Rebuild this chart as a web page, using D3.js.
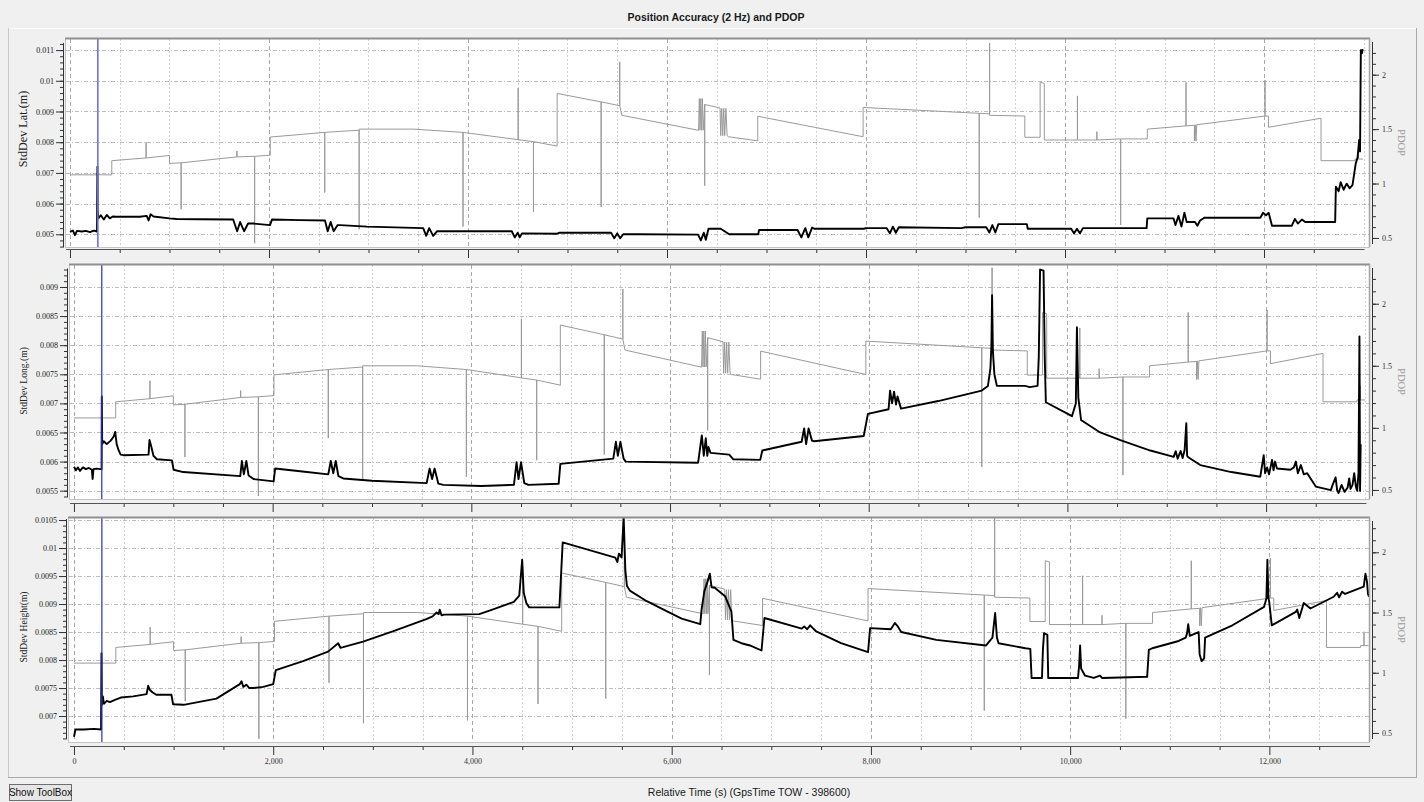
<!DOCTYPE html>
<html>
<head>
<meta charset="utf-8">
<script src="https://cdn.jsdelivr.net/npm/d3@7"></script>
<style>
  body { margin: 0; background: #f0f0f0; }
  svg { display: block; }
</style>
</head>
<body>
<svg id="chart" width="1424" height="802"></svg>
<script>
// ---- Data -------------------------------------------------------------
// Relative time (s) axis
const timeMajorTicks = [0, 2000, 4000, 6000, 8000, 10000, 12000];
const timeTickLabels = ["0", "2,000", "4,000", "6,000", "8,000", "10,000", "12,000"];
const cursorTime = 280;

// PDOP (right axis), shared by all three panels: [time, pdop]
const pdop = [
  [0,1.08],[420,1.08],[420,1.21],[765,1.235],[765,1.38],[765,1.235],[1000,1.258],[1000,1.185],
  [1117,1.19],[1117,0.764],[1117,1.19],[1678,1.245],[1678,1.30],[1678,1.245],[1856,1.25],[1856,0.452],
  [1856,1.25],[2013,1.26],[2013,1.427],[2560,1.47],[2560,0.917],[2560,1.47],[2906,1.49],[2906,0.58],
  [2906,1.50],[3450,1.50],[3950,1.47],[3950,0.605],[3950,1.47],[4504,1.403],[4504,1.877],[4504,1.403],
  [4658,1.385],[4658,0.74],[4658,1.385],[4896,1.344],[4896,1.828],[5338,1.75],[5338,0.785],[5338,1.75],
  [5525,1.715],[5525,2.118],[5525,1.715],[5546,1.627],[6317,1.489],[6325,1.78],[6332,1.49],[6340,1.78],
  [6348,1.49],[6356,1.78],[6364,1.49],[6379,1.726],[6379,0.98],[6379,1.726],[6533,1.694],[6540,1.44],
  [6550,1.69],[6560,1.44],[6570,1.69],[6580,1.44],[6592,1.69],[6604,1.44],[6617,1.43],[6912,1.392],
  [6912,1.618],[7971,1.43],[7971,1.699],[9138,1.645],[9138,0.686],[9138,1.645],[9242,1.64],[9242,2.29],
  [9242,1.627],[9596,1.62],[9596,1.425],[9750,1.425],[9750,1.93],[9792,1.92],[9792,1.40],[10125,1.40],
  [10125,1.805],[10125,1.40],[10320,1.40],[10320,1.477],[10320,1.40],[10559,1.41],[10559,0.62],[10559,1.41],
  [10827,1.41],[10827,1.50],[11216,1.53],[11216,1.93],[11216,1.53],[11300,1.535],[11300,1.39],[11308,1.54],
  [11316,1.39],[11324,1.54],[12010,1.62],[12010,1.95],[12010,1.62],[12044,1.62],[12044,1.517],[12573,1.60],
  [12573,1.21],[12915,1.21],[12915,1.225],[12950,1.225],[12950,1.34],[12950,1.225],[12995,1.225]
];

// Standard deviation of latitude (m): [time, value]
const stdLat = [
  [0,0.00508],[30,0.00512],[50,0.00497],[70,0.00511],[120,0.00509],[160,0.00511],[200,0.00507],[240,0.00512],
  [272,0.00509],[276,0.0072],[278,0.0058],[285,0.00552],[310,0.00562],[340,0.00548],[370,0.00563],[400,0.00552],
  [430,0.00558],[460,0.00557],[700,0.00557],[771,0.0056],[790,0.00545],[810,0.00565],[840,0.00558],[1000,0.00552],
  [1072,0.0055],[1300,0.00549],[1640,0.00548],[1680,0.0051],[1710,0.0054],[1750,0.0051],[1790,0.00535],[1843,0.00535],
  [2010,0.0053],[2030,0.00548],[2312,0.00546],[2563,0.00545],[2590,0.0051],[2620,0.0054],[2650,0.0051],[2690,0.0053],
  [2714,0.0053],[2985,0.00525],[3550,0.0052],[3580,0.00495],[3610,0.0052],[3650,0.00495],[3690,0.0051],[3720,0.0051],
  [4120,0.0051],[4440,0.0051],[4470,0.0049],[4500,0.00505],[4520,0.0049],[4542,0.00503],[4896,0.00502],[4917,0.00505],
  [5438,0.00505],[5470,0.00487],[5500,0.00503],[5530,0.00487],[5560,0.005],[5708,0.005],[6312,0.00499],[6340,0.0048],
  [6370,0.00505],[6390,0.00482],[6417,0.00518],[6540,0.00518],[6625,0.005],[6917,0.005],[6925,0.00514],[7312,0.00514],
  [7350,0.0049],[7390,0.0052],[7420,0.0049],[7458,0.00522],[7479,0.00518],[7979,0.00518],[8000,0.0052],[8208,0.0052],
  [8240,0.00503],[8270,0.00525],[8300,0.00505],[8330,0.00523],[8958,0.0052],[9000,0.00523],[9208,0.00523],[9240,0.00506],
  [9270,0.0053],[9300,0.00506],[9330,0.00533],[9617,0.00533],[9625,0.00518],[10062,0.00518],[10090,0.00503],[10120,0.00518],
  [10150,0.00503],[10180,0.0052],[10820,0.0052],[10827,0.00552],[11090,0.00552],[11110,0.0053],[11140,0.0056],[11170,0.00525],
  [11200,0.0057],[11223,0.0054],[11306,0.0054],[11330,0.00528],[11357,0.00545],[11400,0.00554],[11963,0.00554],[11990,0.0057],
  [12020,0.00562],[12047,0.0057],[12080,0.00528],[12280,0.00528],[12310,0.0055],[12340,0.00535],[12380,0.00548],[12414,0.0054],
  [12715,0.0054],[12722,0.00655],[12750,0.0064],[12770,0.0067],[12800,0.00645],[12830,0.00665],[12860,0.0065],[12889,0.0066],
  [12922,0.00731],[12940,0.0075],[12956,0.00807],[12965,0.0077],[12973,0.0110],[12985,0.0109],[12990,0.01103]
];

// Standard deviation of longitude (m): [time, value]
const stdLong = [
  [0,0.00591],[20,0.00585],[40,0.0059],[60,0.00584],[90,0.0059],[120,0.00587],[150,0.00589],[180,0.00586],
  [188,0.0057],[196,0.00587],[230,0.00588],[262,0.00587],[278,0.00587],[280,0.00712],[284,0.0063],[300,0.00635],
  [330,0.0063],[370,0.00636],[400,0.00643],[415,0.00651],[430,0.0063],[448,0.0062],[470,0.00612],[499,0.00611],
  [751,0.00612],[760,0.00637],[775,0.00628],[800,0.0061],[835,0.00604],[986,0.00602],[1003,0.00586],[1100,0.00582],
  [1674,0.00575],[1690,0.00601],[1710,0.00578],[1735,0.00601],[1758,0.00576],[1808,0.0057],[2010,0.00566],[2025,0.00588],
  [2300,0.00583],[2560,0.00578],[2585,0.00601],[2610,0.0058],[2635,0.00601],[2662,0.00575],[2711,0.00571],[3000,0.00567],
  [3550,0.00563],[3580,0.00588],[3605,0.0057],[3630,0.00588],[3668,0.00562],[3718,0.0056],[4100,0.00558],[4429,0.0056],
  [4455,0.00599],[4475,0.0057],[4500,0.00599],[4533,0.00563],[4575,0.0056],[4879,0.00562],[4896,0.00596],[5429,0.00605],
  [5455,0.00634],[5475,0.0061],[5500,0.00634],[5533,0.00605],[5554,0.006],[6283,0.00598],[6300,0.0062],[6320,0.00645],
  [6340,0.0061],[6360,0.0064],[6375,0.0061],[6387,0.00625],[6408,0.00615],[6596,0.00612],[6637,0.00604],[6908,0.00603],
  [6929,0.00619],[7325,0.00634],[7350,0.00657],[7370,0.0063],[7395,0.00657],[7429,0.00636],[7450,0.00635],[7950,0.00644],
  [7992,0.00682],[8200,0.0069],[8215,0.00722],[8235,0.007],[8255,0.0072],[8275,0.00698],[8290,0.00712],[8325,0.00691],
  [8700,0.00704],[9138,0.00722],[9200,0.0073],[9225,0.0076],[9235,0.0080],[9242,0.00886],[9250,0.0079],[9265,0.0075],[9290,0.0073],
  [9575,0.0073],[9620,0.00728],[9700,0.0073],[9712,0.0078],[9725,0.0093],[9760,0.00928],[9772,0.0078],[9783,0.00702],
  [10046,0.00678],[10085,0.0070],[10096,0.00831],[10110,0.0071],[10138,0.00671],[10160,0.00669],[10330,0.0065],[10533,0.00637],
  [10835,0.00619],[11070,0.00608],[11090,0.00618],[11110,0.00605],[11140,0.00618],[11160,0.00606],[11180,0.0062],[11197,0.00666],
  [11205,0.0061],[11220,0.00607],[11338,0.00594],[11650,0.00582],[11942,0.00574],[11976,0.00611],[11990,0.0058],[12010,0.0059],[12030,0.00578],
  [12060,0.00603],[12075,0.00585],[12090,0.006],[12110,0.00588],[12245,0.00586],[12280,0.0059],[12300,0.006],[12320,0.0058],
  [12350,0.00594],[12380,0.00578],[12414,0.0058],[12500,0.00557],[12652,0.00551],[12670,0.0056],[12700,0.00573],[12715,0.00551],
  [12730,0.00546],[12760,0.0056],[12790,0.00548],[12820,0.00555],[12837,0.00571],[12850,0.00553],[12870,0.0056],[12887,0.0058],
  [12905,0.00556],[12917,0.0055],[12930,0.0058],[12940,0.00815],[12946,0.0055],[12952,0.0063]
];

// Standard deviation of height (m): [time, value]
const stdHeight = [
  [0,0.00663],[15,0.00676],[100,0.00676],[200,0.00677],[272,0.00676],[276,0.00812],[280,0.0072],[290,0.00735],
  [300,0.00722],[330,0.00727],[360,0.00725],[411,0.00729],[470,0.00733],[595,0.00735],[729,0.00739],[745,0.00754],
  [760,0.00747],[790,0.00742],[826,0.00738],[978,0.00738],[995,0.00721],[1100,0.0072],[1430,0.00731],[1665,0.00757],
  [1682,0.00762],[1700,0.00752],[1730,0.00756],[1760,0.0075],[1799,0.0075],[1900,0.00752],[2000,0.00757],[2026,0.00782],
  [2300,0.00798],[2551,0.00815],[2640,0.00828],[2652,0.0083],[2675,0.00822],[2702,0.00823],[2902,0.00833],[3200,0.00851],
  [3537,0.00873],[3600,0.00878],[3640,0.00885],[3660,0.00882],[3671,0.0089],[3690,0.0088],[3720,0.00881],[4069,0.00882],
  [4200,0.0089],[4416,0.00904],[4470,0.00915],[4499,0.00979],[4515,0.0092],[4541,0.00902],[4570,0.00894],[4873,0.00894],
  [4906,0.0101],[5434,0.00983],[5455,0.00975],[5470,0.0099],[5497,0.00983],[5518,0.01055],[5535,0.0096],[5551,0.00932],
  [5580,0.00924],[5750,0.00905],[5954,0.00887],[6100,0.00874],[6287,0.00864],[6300,0.0089],[6328,0.00923],[6360,0.0094],[6383,0.00954],[6400,0.0093],
  [6432,0.00929],[6536,0.00914],[6599,0.00887],[6620,0.00836],[6700,0.0083],[6786,0.00826],[6902,0.00817],[6931,0.00875],[7306,0.00856],
  [7330,0.0086],[7360,0.00855],[7390,0.00862],[7451,0.00851],[7700,0.0083],[7971,0.00814],[7992,0.00857],[8200,0.00855],[8241,0.00866],
  [8270,0.0086],[8304,0.0085],[8657,0.00836],[9156,0.00826],[9220,0.0084],[9247,0.00884],[9265,0.0084],[9281,0.0083],
  [9551,0.00821],[9600,0.0082],[9613,0.00768],[9717,0.00768],[9727,0.0082],[9738,0.00848],[9771,0.00845],[9780,0.00768],
  [10079,0.00768],[10090,0.0079],[10100,0.00826],[10110,0.00785],[10150,0.00772],[10237,0.00768],[10300,0.00772],[10320,0.00768],
  [10773,0.0077],[10790,0.00818],[10824,0.00821],[11090,0.00834],[11160,0.0084],[11174,0.00848],[11185,0.00864],[11201,0.00843],
  [11290,0.0085],[11300,0.0081],[11320,0.00798],[11345,0.00803],[11355,0.0084],[11629,0.00862],[11947,0.00895],[11970,0.0091],
  [11980,0.00979],[11990,0.0091],[11997,0.00906],[12024,0.00862],[12265,0.00886],[12280,0.0089],[12300,0.00875],[12345,0.00902],
  [12412,0.00892],[12646,0.00913],[12680,0.0092],[12700,0.00912],[12730,0.00922],[12760,0.00918],[12947,0.00931],[12964,0.00954],
  [12980,0.0094],[12990,0.00918],[13000,0.00913]
];

// Axis ticks
const latTicks = [0.005, 0.006, 0.007, 0.008, 0.009, 0.01, 0.011];
const latTickLabels = ["0.005", "0.006", "0.007", "0.008", "0.009", "0.01", "0.011"];
const longTicks = [0.0055, 0.006, 0.0065, 0.007, 0.0075, 0.008, 0.0085, 0.009];
const longTickLabels = ["0.0055", "0.006", "0.0065", "0.007", "0.0075", "0.008", "0.0085", "0.009"];
const heightTicks = [0.007, 0.0075, 0.008, 0.0085, 0.009, 0.0095, 0.01, 0.0105];
const heightTickLabels = ["0.007", "0.0075", "0.008", "0.0085", "0.009", "0.0095", "0.01", "0.0105"];
const pdopTicks = [0.5, 1, 1.5, 2];
const pdopTickLabels = ["0.5", "1", "1.5", "2"];

// ---- Layout -----------------------------------------------------------
const panels = [
  { name: "StdDev Lat.(m)", data: stdLat, ticks: latTicks, labels: latTickLabels, minorStep: 0.0002,
    minorRange: [0.0046, 0.0112], left: 65, right: 1369, top: 38, bottom: 247, axisY: 249,
    tDomain: [-50, 13055], yDomain: [0.004586, 0.011394], pDomain: [0.417, 2.337], showLabels: false,
    titleSize: 12.2, titleX: 27, titleY: 129 },
  { name: "StdDev Long.(m)", data: stdLong, ticks: longTicks, labels: longTickLabels, minorStep: 0.0001,
    minorRange: [0.0054, 0.0093], left: 69, right: 1369, top: 264, bottom: 499, axisY: 503,
    tDomain: [-50, 13036], yDomain: [0.005357, 0.009395], pDomain: [0.427, 2.32], showLabels: false,
    titleSize: 9.6, titleX: 27, titleY: 381 },
  { name: "StdDev Height(m)", data: stdHeight, ticks: heightTicks, labels: heightTickLabels, minorStep: 0.0001,
    minorRange: [0.0066, 0.0105], left: 68, right: 1369, top: 517, bottom: 742, axisY: 746,
    tDomain: [-60, 13000], yDomain: [0.006536, 0.010554], pDomain: [0.425, 2.293], showLabels: true,
    titleSize: 9.6, titleX: 27, titleY: 627 }
];

const svg = d3.select("#chart");
const serif = "'Liberation Serif', 'Times New Roman', serif";
const sans = "'Liberation Sans', Arial, sans-serif";

// Outer frame
svg.append("rect").attr("x", 0).attr("y", 0).attr("width", 1424).attr("height", 802).attr("fill", "#f0f0f0");
svg.append("line").attr("x1", 8).attr("x2", 1416).attr("y1", 28.5).attr("y2", 28.5).attr("stroke", "#fbfbfb");
svg.append("line").attr("x1", 8.5).attr("x2", 8.5).attr("y1", 28).attr("y2", 777).attr("stroke", "#c9c9c9");
svg.append("line").attr("x1", 1416.5).attr("x2", 1416.5).attr("y1", 28).attr("y2", 777).attr("stroke", "#a8a8a8");
svg.append("line").attr("x1", 8).attr("x2", 1417).attr("y1", 777.5).attr("y2", 777.5).attr("stroke", "#a8a8a8");

// Title
svg.append("text").attr("x", 716).attr("y", 21).attr("text-anchor", "middle")
  .attr("font-family", sans).attr("font-weight", "bold").attr("font-size", 10.5).attr("fill", "#1a1a1a")
  .text("Position Accuracy (2 Hz) and PDOP");

panels.forEach((p, i) => {
  const g = svg.append("g");
  const x = d3.scaleLinear().domain(p.tDomain).range([p.left, p.right]);
  const y = d3.scaleLinear().domain(p.yDomain).range([p.bottom, p.top]);
  const yp = d3.scaleLinear().domain(p.pDomain).range([p.bottom, p.top]);

  // plot background
  g.append("rect").attr("x", p.left + 0.5).attr("y", p.top + 0.5)
    .attr("width", p.right - p.left).attr("height", p.bottom - p.top)
    .attr("fill", "#ffffff").attr("stroke", "#c4c4c4");

  // vertical grid every 500 s, darker at labelled times
  const gridTimes = d3.range(0, 13001, 500);
  g.selectAll(".vg").data(gridTimes).enter().append("line")
    .attr("x1", d => Math.round(x(d)) + 0.5).attr("x2", d => Math.round(x(d)) + 0.5)
    .attr("y1", p.top + 1).attr("y2", p.bottom)
    .attr("stroke", d => d % 2000 === 0 ? "#a9a9a9" : "#d2d2d2")
    .attr("stroke-dasharray", d => d % 2000 === 0 ? "4,3" : "2,2");

  // horizontal grid at labelled left ticks
  g.selectAll(".hg").data(p.ticks).enter().append("line")
    .attr("x1", p.left + 1).attr("x2", p.right)
    .attr("y1", d => Math.round(y(d)) + 0.5).attr("y2", d => Math.round(y(d)) + 0.5)
    .attr("stroke", "#bdbdbd").attr("stroke-dasharray", "4,2,1,2");

  const clipId = "clip" + i;
  svg.append("clipPath").attr("id", clipId).append("rect")
    .attr("x", p.left + 1).attr("y", p.top + 1).attr("width", p.right - p.left - 1).attr("height", p.bottom - p.top - 1);
  const inner = g.append("g").attr("clip-path", `url(#${clipId})`);

  // PDOP trace
  inner.append("path").datum(pdop)
    .attr("d", d3.line().x(d => x(d[0])).y(d => yp(d[1])))
    .attr("fill", "none").attr("stroke", "#9a9a9a").attr("stroke-width", 1);

  // standard deviation trace
  inner.append("path").datum(p.data)
    .attr("d", d3.line().x(d => x(d[0])).y(d => y(d[1])))
    .attr("fill", "none").attr("stroke", "#000").attr("stroke-width", 1.9)
    .attr("stroke-linejoin", "round");

  // time cursor
  inner.append("line")
    .attr("x1", x(cursorTime)).attr("x2", x(cursorTime))
    .attr("y1", p.top).attr("y2", p.bottom)
    .attr("stroke", i === 0 ? "#6e6ee0" : "#2d2dd0").attr("stroke-width", i === 0 ? 1.6 : 1.2);

  // frame accents
  g.append("line").attr("x1", p.left).attr("x2", p.right + 1).attr("y1", p.top + 0.5).attr("y2", p.top + 0.5)
    .attr("stroke", "#8f8f8f").attr("stroke-width", 2);
  g.append("line").attr("x1", p.right + 0.5).attr("x2", p.right + 0.5).attr("y1", p.top).attr("y2", p.bottom)
    .attr("stroke", "#a3a3a3").attr("stroke-width", 1.5);

  // left axis
  const leftX = p.left - 2;
  const minorVals = d3.range(Math.round(p.minorRange[0] / p.minorStep), Math.round(p.minorRange[1] / p.minorStep) + 1)
    .map(k => +(k * p.minorStep).toFixed(5));
  const la = g.append("g").attr("transform", `translate(${leftX},0)`);
  la.call(d3.axisLeft(y).tickValues(minorVals).tickSize(3).tickFormat(""));
  la.call(g2 => g2.select(".domain").remove());
  const lm = g.append("g").attr("transform", `translate(${leftX},0)`);
  lm.call(d3.axisLeft(y).tickValues(p.ticks).tickSize(7).tickPadding(2)
    .tickFormat((d, k) => p.labels[k]));
  lm.select(".domain").remove();
  lm.selectAll("text").attr("font-family", serif).attr("font-size", 8).attr("fill", "#222");
  g.selectAll(".tick line").attr("stroke", "#333");
  g.append("line").attr("x1", leftX + 0.5).attr("x2", leftX + 0.5)
    .attr("y1", y(minorVals[minorVals.length - 1]) - 1).attr("y2", y(minorVals[0]) + 1)
    .attr("stroke", "#333");

  // right axis (PDOP)
  const rightX = p.right + 3;
  const pMinor = d3.range(5, 23).map(k => k / 10);
  const ra = g.append("g").attr("transform", `translate(${rightX},0)`);
  ra.call(d3.axisRight(yp).tickValues(pMinor).tickSize(4).tickFormat(""));
  ra.select(".domain").remove();
  const rm = g.append("g").attr("transform", `translate(${rightX},0)`);
  rm.call(d3.axisRight(yp).tickValues(pdopTicks).tickSize(7).tickPadding(3)
    .tickFormat((d, k) => pdopTickLabels[k]));
  rm.select(".domain").remove();
  rm.selectAll("text").attr("font-family", serif).attr("font-size", 8).attr("fill", "#333");
  ra.selectAll(".tick line").attr("stroke", "#333");
  rm.selectAll(".tick line").attr("stroke", "#333");
  g.append("line").attr("x1", rightX + 0.5).attr("x2", rightX + 0.5)
    .attr("y1", p.top + 4).attr("y2", p.bottom - 3).attr("stroke", "#333");

  // bottom (time) axis
  const minorTimes = d3.range(0, 12501, 500).filter(t => t % 2000 !== 0);
  const ba = g.append("g").attr("transform", `translate(0,${p.axisY})`);
  ba.call(d3.axisBottom(x).tickValues(minorTimes).tickSize(4).tickFormat(""));
  ba.select(".domain").remove();
  const bm = g.append("g").attr("transform", `translate(0,${p.axisY})`);
  bm.call(d3.axisBottom(x).tickValues(timeMajorTicks).tickSize(9).tickPadding(3)
    .tickFormat((d, k) => p.showLabels ? timeTickLabels[k] : ""));
  bm.select(".domain").remove();
  bm.selectAll("text").attr("font-family", serif).attr("font-size", 8).attr("fill", "#333");
  ba.selectAll(".tick line").attr("stroke", "#333");
  bm.selectAll(".tick line").attr("stroke", "#333");
  g.append("line").attr("x1", x(0) - 4).attr("x2", x(13000) + 1)
    .attr("y1", p.axisY + 0.5).attr("y2", p.axisY + 0.5).attr("stroke", "#555");

  // axis titles
  g.append("text").attr("transform", `translate(${p.titleX},${p.titleY}) rotate(-90)`)
    .attr("text-anchor", "middle").attr("font-family", serif).attr("font-size", p.titleSize).attr("fill", "#222")
    .text(p.name);
  const cy = (p.top + p.bottom) / 2;
  g.append("text").attr("transform", `translate(1398,${cy}) rotate(90)`)
    .attr("text-anchor", "middle").attr("font-family", serif).attr("font-size", 10.5).attr("fill", "#9a9a9a")
    .text("PDOP");
});

// x axis title
svg.append("text").attr("x", 749).attr("y", 796).attr("text-anchor", "middle")
  .attr("font-family", sans).attr("font-size", 10.5).attr("fill", "#1a1a1a")
  .text("Relative Time (s) (GpsTime TOW - 398600)");

// toolbox button
const btn = svg.append("g");
btn.append("rect").attr("x", 9.5).attr("y", 784.5).attr("width", 62).attr("height", 16)
  .attr("fill", "#e6e6e6").attr("stroke", "#6e6e6e");
btn.append("text").attr("x", 40.5).attr("y", 796).attr("text-anchor", "middle")
  .attr("font-family", sans).attr("font-size", 10).attr("fill", "#111").text("Show ToolBox");
</script>
</body>
</html>
